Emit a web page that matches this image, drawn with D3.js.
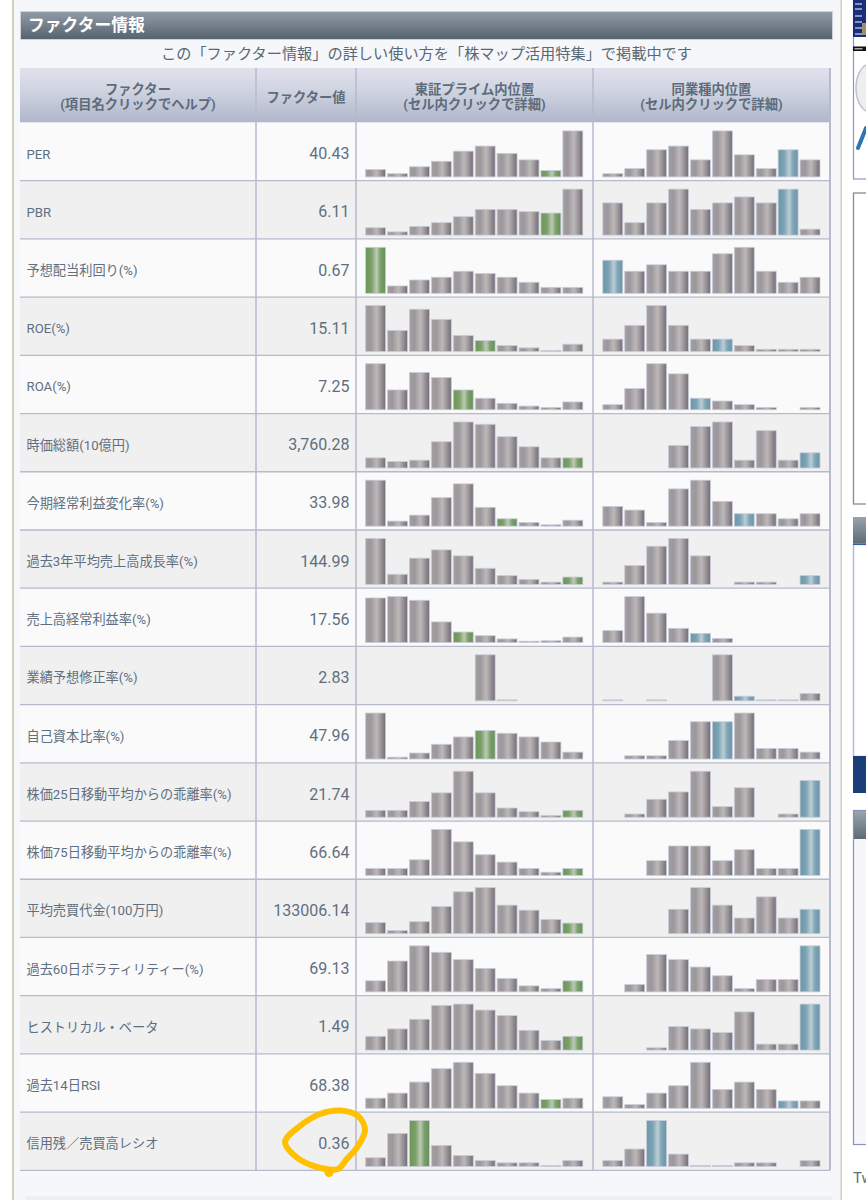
<!DOCTYPE html>
<html>
<head>
<meta charset="utf-8">
<script src="https://cdn.jsdelivr.net/npm/d3@7.9.0/dist/d3.min.js"></script>
<style>
  html, body { margin: 0; padding: 0; background: #fff; }
  svg { display: block; }
  text { font-family: Roboto, "Noto Sans CJK JP", sans-serif; }
</style>
</head>
<body>
<svg id="page" width="866" height="1200"></svg>
<script>
const factorNames = [
  "PER", "PBR", "予想配当利回り(%)", "ROE(%)", "ROA(%)", "時価総額(10億円)",
  "今期経常利益変化率(%)", "過去3年平均売上高成長率(%)", "売上高経常利益率(%)",
  "業績予想修正率(%)", "自己資本比率(%)", "株価25日移動平均からの乖離率(%)",
  "株価75日移動平均からの乖離率(%)", "平均売買代金(100万円)", "過去60日ボラティリティー(%)",
  "ヒストリカル・ベータ", "過去14日RSI", "信用残／売買高レシオ",
];
const factorValues = [
  "40.43", "6.11", "0.67", "15.11", "7.25", "3,760.28", "33.98", "144.99", "17.56",
  "2.83", "47.96", "21.74", "66.64", "133006.14", "69.13", "1.49", "68.38", "0.36",
];

// bar heights, tallest bar in a cell = 100
const marketBars = [
  [16, 7, 22, 34, 56, 67, 51, 37, 14, 100],
  [16, 7, 19, 27, 40, 56, 56, 51, 48, 100],
  [100, 16, 29, 35, 48, 43, 35, 24, 13, 13],
  [100, 46, 92, 70, 35, 24, 13, 8, 2, 16],
  [100, 43, 81, 70, 43, 25, 14, 8, 5, 17],
  [22, 14, 17, 57, 100, 95, 68, 46, 22, 22],
  [100, 11, 24, 62, 92, 41, 16, 8, 3, 13],
  [100, 22, 57, 75, 62, 35, 19, 11, 5, 16],
  [97, 100, 92, 45, 23, 15, 8, 3, 4, 12],
  [0, 0, 0, 0, 0, 100, 2, 0, 0, 0],
  [100, 4, 13, 32, 48, 62, 56, 48, 37, 15],
  [15, 15, 34, 53, 100, 53, 20, 12, 4, 15],
  [15, 15, 34, 100, 73, 45, 29, 15, 7, 15],
  [24, 7, 26, 59, 91, 100, 62, 51, 31, 23],
  [24, 67, 100, 86, 70, 51, 29, 13, 7, 24],
  [30, 46, 67, 97, 100, 87, 75, 43, 21, 30],
  [22, 33, 57, 86, 100, 76, 49, 33, 19, 22],
  [19, 72, 100, 46, 24, 13, 8, 8, 2, 13],
];
const sectorBars = [
  [7, 18, 59, 67, 37, 100, 48, 18, 59, 37],
  [70, 27, 70, 100, 56, 70, 83, 70, 100, 13],
  [72, 48, 62, 48, 48, 86, 100, 48, 24, 35],
  [27, 57, 100, 57, 27, 27, 13, 5, 5, 5],
  [11, 46, 100, 78, 25, 19, 11, 5, 0, 5],
  [0, 0, 0, 49, 90, 100, 17, 81, 17, 33],
  [43, 35, 8, 81, 100, 54, 27, 27, 16, 27],
  [5, 41, 83, 100, 62, 0, 5, 5, 0, 19],
  [26, 100, 64, 31, 20, 9, 0, 0, 0, 0],
  [2, 0, 2, 0, 0, 100, 10, 2, 2, 16],
  [0, 7, 7, 40, 81, 81, 100, 23, 23, 15],
  [0, 7, 39, 55, 100, 23, 64, 0, 7, 80],
  [0, 0, 32, 64, 64, 32, 56, 15, 15, 100],
  [0, 0, 0, 53, 100, 62, 34, 80, 34, 53],
  [0, 16, 81, 70, 54, 35, 7, 27, 27, 100],
  [0, 0, 5, 51, 46, 38, 83, 13, 13, 100],
  [25, 8, 33, 49, 100, 41, 57, 41, 16, 16],
  [13, 38, 100, 27, 2, 2, 8, 8, 0, 13],
];
// which bar in each cell holds this stock
const marketHighlight = [8, 8, 0, 5, 4, 9, 6, 9, 4, 6, 5, 9, 9, 9, 9, 9, 8, 2];
const sectorHighlight = [8, 8, 0, 5, 4, 9, 6, 9, 4, 6, 5, 9, 9, 9, 9, 9, 8, 2];

const svg = d3.select("#page");
const defs = svg.append("defs");

function addGradient(id, stops, vertical) {
  const g = defs.append("linearGradient").attr("id", id)
    .attr("x1", 0).attr("y1", 0)
    .attr("x2", vertical ? 0 : 1).attr("y2", vertical ? 1 : 0);
  stops.forEach(([o, c]) => g.append("stop").attr("offset", o).attr("stop-color", c));
}
addGradient("barGray", [[0, "#a39ea1"], [0.25, "#9c979b"], [0.55, "#bdb8b8"], [0.75, "#9e989c"], [1, "#716d76"]]);
addGradient("barGreen", [[0, "#6c9658"], [0.3, "#7ba069"], [0.55, "#bccbb5"], [0.75, "#7ba06b"], [1, "#64905a"]]);
addGradient("barTeal", [[0, "#6b98ab"], [0.3, "#7ca3b4"], [0.55, "#bccdd6"], [0.75, "#7fa5b6"], [1, "#6a95a9"]]);
addGradient("titleBar", [[0, "#929ca8"], [1, "#55636f"]], true);
addGradient("headBar", [[0, "#dfe2ec"], [0.35, "#d3d7e3"], [1, "#b0b6ca"]], true);
addGradient("sideTitle", [[0, "#9aa3ad"], [1, "#5d6b78"]], true);

// page frame
svg.append("rect").attr("x", 13).attr("width", 828).attr("height", 1200).attr("fill", "#f5f7fa");
svg.append("rect").attr("x", 12).attr("width", 2).attr("height", 1200).attr("fill", "#d5d0b8");
svg.append("rect").attr("x", 840.5).attr("width", 1.5).attr("height", 1200).attr("fill", "#d5d0b8");
svg.append("rect").attr("x", 26).attr("y", 1196).attr("width", 806).attr("height", 4).attr("fill", "#eeeff1");

// title + caption
svg.append("rect").attr("x", 20.5).attr("y", 11.5).attr("width", 812).attr("height", 28)
  .attr("fill", "url(#titleBar)").attr("stroke", "#cdd1d8");
svg.append("text").attr("x", 28).attr("y", 31).attr("fill", "#fff")
  .attr("font-size", 16.8).attr("font-weight", 700).text("ファクター情報");
svg.append("text").attr("x", 426.5).attr("y", 58.5).attr("text-anchor", "middle").attr("fill", "#5a6774")
  .attr("font-size", 15.2).text("この「ファクター情報」の詳しい使い方を「株マップ活用特集」で掲載中です");

// table layout
const tableTop = 68;
const headBottom = 122.5;
const tableBottom = 1170.3;
const colEdges = [20, 256, 356, 593, 830];
const rowY = d3.scaleBand().domain(d3.range(factorNames.length)).range([headBottom, tableBottom]);
const barH = d3.scaleLinear().domain([0, 100]).range([0, 46]);
const marketX = d3.scaleBand().domain(d3.range(10)).range([365.6, 582.8]).paddingInner(0.09);
const sectorX = d3.scaleBand().domain(d3.range(10)).range([602.8, 820]).paddingInner(0.09);

// header
svg.append("rect").attr("x", colEdges[0]).attr("y", tableTop)
  .attr("width", colEdges[4] - colEdges[0]).attr("height", headBottom - tableTop).attr("fill", "url(#headBar)");
const headers = [
  ["ファクター", "(項目名クリックでヘルプ)"],
  ["ファクター値"],
  ["東証プライム内位置", "(セル内クリックで詳細)"],
  ["同業種内位置", "(セル内クリックで詳細)"],
];
headers.forEach((lines, c) => {
  const cx = (colEdges[c] + colEdges[c + 1]) / 2;
  lines.forEach((line, i) => {
    svg.append("text").attr("x", cx).attr("y", (lines.length === 1 ? 102 : 93.5 + i * 15))
      .attr("text-anchor", "middle").attr("fill", "#5e6b7c")
      .attr("font-size", 13.3).attr("font-weight", 700).text(line);
  });
});

// rows
const rows = svg.selectAll("g.row").data(factorNames).join("g").attr("class", "row")
  .attr("transform", (d, i) => `translate(0,${rowY(i)})`);
rows.append("rect").attr("x", colEdges[0]).attr("width", colEdges[4] - colEdges[0])
  .attr("height", rowY.bandwidth()).attr("fill", (d, i) => (i % 2 ? "#f0f0f1" : "#fafafb"));
rows.append("text").attr("x", 26.5).attr("y", rowY.bandwidth() / 2 + 7)
  .attr("fill", "#5f6f7f").attr("font-size", 13.2).text((d) => d);
rows.append("text").attr("x", 349.5).attr("y", rowY.bandwidth() / 2 + 7.6)
  .attr("text-anchor", "end").attr("fill", "#5f6f7f").attr("font-size", 16)
  .text((d, i) => factorValues[i]);

// little histograms
function drawBars(values, highlight, x, fillName) {
  rows.each(function (d, i) {
    const base = rowY.bandwidth() - 3.8;
    d3.select(this).selectAll(null)
      .data(values[i].map((v, k) => ({ v, k })).filter((b) => b.v > 0))
      .join("rect")
      .attr("x", (b) => x(b.k))
      .attr("y", (b) => base - barH(b.v))
      .attr("width", x.bandwidth())
      .attr("height", (b) => barH(b.v))
      .attr("fill", (b) => (b.k === highlight[i] ? `url(#${fillName})` : "url(#barGray)"))
      .attr("stroke", "#c9ccd9")
      .attr("stroke-width", 0.8);
  });
}
drawBars(marketBars, marketHighlight, marketX, "barGreen");
drawBars(sectorBars, sectorHighlight, sectorX, "barTeal");

// grid lines
const gridColor = "#b6bacb";
rowY.domain().forEach((i) => {
  svg.append("line").attr("x1", colEdges[0]).attr("x2", colEdges[4])
    .attr("y1", rowY(i) + rowY.bandwidth()).attr("y2", rowY(i) + rowY.bandwidth())
    .attr("stroke", gridColor).attr("stroke-width", 1.3);
});
colEdges.slice(1).forEach((x) => {
  svg.append("line").attr("x1", x).attr("x2", x).attr("y1", tableTop).attr("y2", tableBottom)
    .attr("stroke", gridColor).attr("stroke-width", x === 830 ? 2 : 1.5);
});

// sidebar, cut off by the window edge
const side = svg.append("g");
side.append("rect").attr("x", 853.5).attr("y", 0).attr("width", 20).attr("height", 179).attr("fill", "#fff").attr("stroke", "#8a95c8").attr("stroke-width", 1.2);
side.append("rect").attr("x", 853).attr("y", 0).attr("width", 13).attr("height", 37).attr("fill", "#1b2f78");
[4, 9, 16, 22, 28, 34].forEach((y) => {
  side.append("rect").attr("x", 855).attr("y", y - 1).attr("width", 7).attr("height", 2).attr("fill", "#9fb0d8").attr("opacity", 0.8);
});
side.append("rect").attr("x", 862).attr("y", 23).attr("width", 4).attr("height", 12).attr("fill", "#a08d6a");
side.append("rect").attr("x", 853).attr("y", 46.5).attr("width", 13).attr("height", 4.5).attr("fill", "#111");
side.append("rect").attr("x", 854.5).attr("y", 48).attr("width", 8).attr("height", 1.5).attr("fill", "#aaa");
side.append("ellipse").attr("cx", 870).attr("cy", 88).attr("rx", 14).attr("ry", 24)
  .attr("fill", "#eceef0").attr("stroke", "#bfc2c6").attr("stroke-width", 1.5);
side.append("path").attr("d", "M858,148 L866,128").attr("stroke", "#2f74b5").attr("stroke-width", 4).attr("stroke-linecap", "round").attr("fill", "none");
side.append("rect").attr("x", 853.5).attr("y", 193).attr("width", 20).attr("height", 311).attr("fill", "#fff").attr("stroke", "#8b8b8b").attr("stroke-width", 1.3);
side.append("rect").attr("x", 853).attr("y", 517).attr("width", 13).attr("height", 27).attr("fill", "url(#sideTitle)");
side.append("rect").attr("x", 853.5).attr("y", 544.5).attr("width", 20).attr("height", 212).attr("fill", "#fff").attr("stroke", "#b3bbd6").attr("stroke-width", 1.5);
side.append("rect").attr("x", 853).attr("y", 544).attr("width", 13).attr("height", 1).attr("fill", "#3b5ea8");
side.append("rect").attr("x", 853).attr("y", 756).attr("width", 13).attr("height", 37).attr("fill", "#1b3d78");
side.append("rect").attr("x", 853.5).attr("y", 810.5).attr("width", 20).attr("height", 334).attr("fill", "#f6f7fa").attr("stroke", "#8a8ec4").attr("stroke-width", 1.2);
side.append("rect").attr("x", 854).attr("y", 811).attr("width", 12).attr("height", 28).attr("fill", "url(#sideTitle)");
side.append("text").attr("x", 853).attr("y", 1183).attr("fill", "#5f6f7f").attr("font-size", 15).text("Tw");

// yellow hand-drawn circle around the last value
const circleLine = d3.line().curve(d3.curveCatmullRomClosed.alpha(0.5));
const scribble = [[285, 1142], [300, 1126], [320, 1114], [340, 1110.5], [358, 1116], [365, 1130],
  [358, 1146], [346, 1160], [338, 1169], [317, 1167], [295, 1156]];
svg.append("path").attr("d", circleLine(scribble)).attr("fill", "none")
  .attr("stroke", "#ffc000").attr("stroke-width", 6).attr("stroke-linejoin", "round");
svg.append("circle").attr("cx", 329).attr("cy", 1172.5).attr("r", 4.5).attr("fill", "#ffc000");
</script>
</body>
</html>
